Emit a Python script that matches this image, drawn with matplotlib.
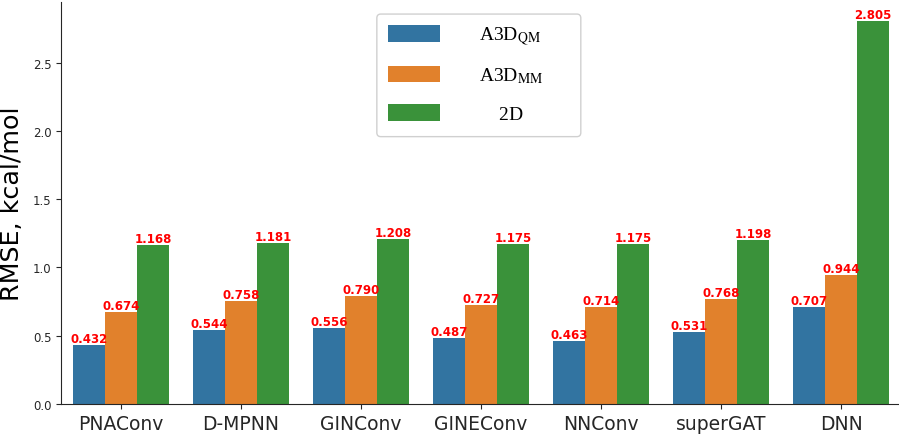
import numpy as np
import matplotlib.pyplot as plt
from matplotlib.patches import FancyBboxPatch
from matplotlib.transforms import IdentityTransform

# данные
models = ["PNAConv", "D-MPNN", "GINConv", "GINEConv", "NNConv", "superGAT", "DNN"]
rmse_qm = [0.432, 0.544, 0.556, 0.487, 0.463, 0.531, 0.707]
rmse_mm = [0.674, 0.758, 0.790, 0.727, 0.714, 0.768, 0.944]
rmse_2d = [1.168, 1.181, 1.208, 1.175, 1.175, 1.198, 2.805]
series_labels = [r"A3D$_{\mathrm{QM}}$",
                 r"A3D$_{\mathrm{MM}}$",
                 r"$\hspace{1.4}$2D"]
colors = ["#3274a1", "#e1812c", "#3a923a"]

plt.rcParams['mathtext.fontset'] = 'stix'

fig = plt.figure(figsize=(8.99, 4.35), dpi=100)
ax = fig.add_axes([61 / 899, 30 / 435, 840 / 899, 402 / 435])

x = np.arange(len(models))
w = 0.8 / 3
for i, (vals, lab, c) in enumerate(zip([rmse_qm, rmse_mm, rmse_2d], series_labels, colors)):
    bars = ax.bar(x + (i - 1) * w, vals, width=w, color=c, label=lab)
    ax.bar_label(bars, labels=[f"{v:.3f}" for v in vals], color="red",
                 fontweight="bold", fontsize=8.5, padding=0)

ax.set_xlim(-0.5, len(models) - 0.5)
ax.set_ylim(0, 2.945)
ax.set_xticks(x)
ax.set_xticklabels(models, fontsize=13.5)
ax.tick_params(axis='y', labelsize=8.5, colors="#262626")
ax.tick_params(axis='x', colors="#262626")
ax.set_ylabel("RMSE, kcal/mol", fontsize=18.3)
ax.yaxis.set_label_coords(-0.044, 0.5)
for s in ["top", "right"]:
    ax.spines[s].set_visible(False)
for s in ["left", "bottom"]:
    ax.spines[s].set_color("#262626")

leg = ax.legend(loc="upper left", bbox_to_anchor=(0.376, 0.97),
                prop={"family": "Liberation Serif", "size": 14},
                handlelength=2.7, handleheight=0.95, handletextpad=2.0,
                labelspacing=0.95, borderpad=0.55, borderaxespad=0.0,
                frameon=False)

# рамка легенды шире текста (подписи в оригинале по центру)
fig.canvas.draw()
bb = leg.get_window_extent()
frame = FancyBboxPatch((bb.x0, bb.y0 - 3), bb.width + 27, bb.height + 3,
                       boxstyle="round,pad=0,rounding_size=4",
                       fc="white", ec="#d0d0d0", lw=1.0,
                       transform=IdentityTransform(), zorder=4.9)
ax.add_artist(frame)

fig.savefig("out.png", dpi=100)
